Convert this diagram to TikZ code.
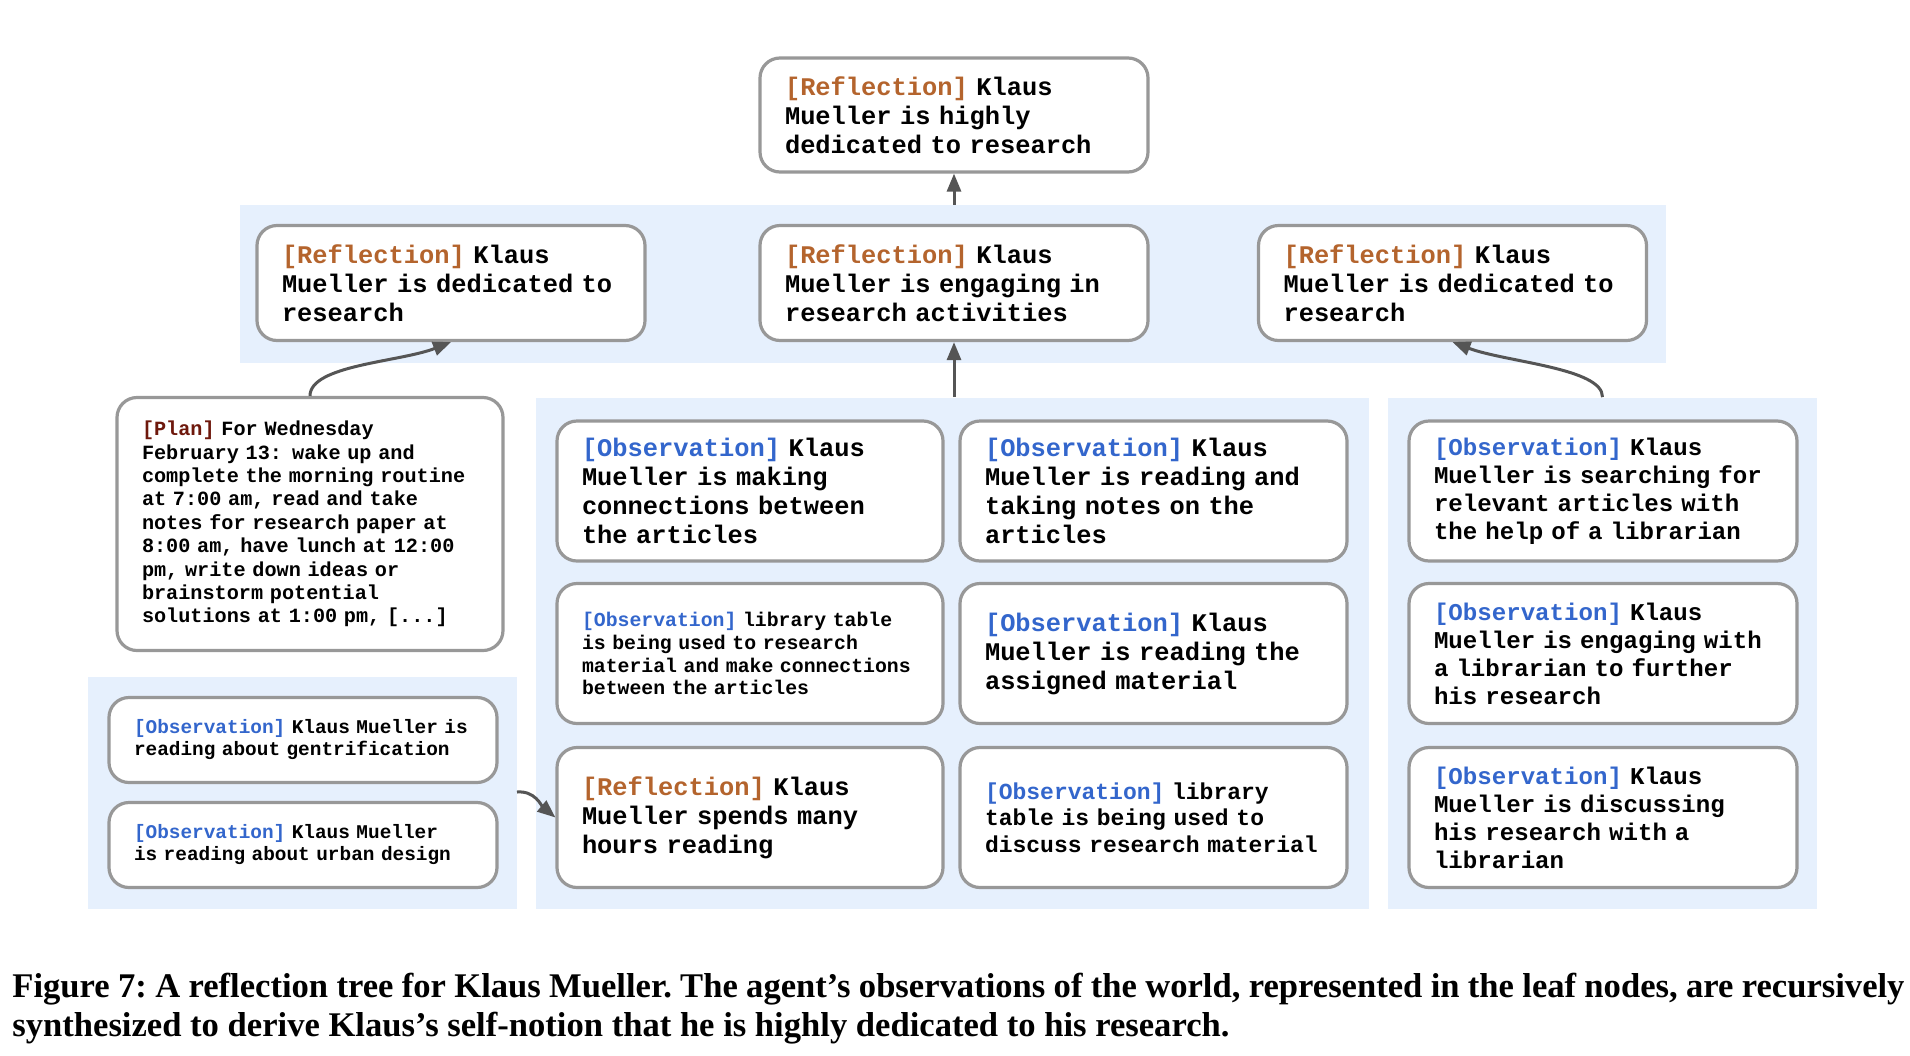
\documentclass[tikz,border=0pt]{standalone}
\usepackage{fontspec}
\setmonofont{Liberation Mono}
\newfontfamily\capfont{Liberation Serif}
\usetikzlibrary{arrows.meta}
\definecolor{refl}{RGB}{180,100,45}
\definecolor{obs}{RGB}{51,102,204}
\definecolor{plancol}{RGB}{110,24,12}
\definecolor{boxgray}{RGB}{152,152,152}
\definecolor{bgblue}{RGB}{230,240,253}
\definecolor{arrcol}{RGB}{85,85,85}
\newcommand\ftA{\ttfamily\bfseries\fontsize{12.7pt}{14.5pt}\selectfont}
\newcommand\ftPlan{\ttfamily\bfseries\fontsize{10.1pt}{11.7pt}\selectfont}
\newcommand\ftBL{\ttfamily\bfseries\fontsize{9.7pt}{11pt}\selectfont}
\newcommand\ftCB{\ttfamily\bfseries\fontsize{9.9pt}{11.45pt}\selectfont}
\newcommand\ftCC{\ttfamily\bfseries\fontsize{11.5pt}{13.2pt}\selectfont}
\newcommand\ftR{\ttfamily\bfseries\fontsize{12.05pt}{14pt}\selectfont}
\newcommand\lblR{\textcolor{refl}{[Reflection]}}
\newcommand\lblO{\textcolor{obs}{[Observation]}}
\newcommand\lblP{\textcolor{plancol}{[Plan]}}
\newcommand\bxl[1]{\mbox{#1}}
\tikzset{
  box/.style={draw=boxgray, line width=1.6pt, rounded corners=10pt, fill=white,
    align=left, inner xsep=12.5pt, inner ysep=0pt},
  bgpanel/.style={fill=bgblue, draw=none, inner sep=0pt},
  conn/.style={draw=arrcol, line width=1.5pt, -{Triangle[length=9pt,width=7pt]}},
}
\begin{document}
\begin{tikzpicture}[x=0.5pt,y=-0.5pt]
\useasboundingbox (0,0) rectangle (1910,1055);
\fill[white] (0,0) rectangle (1910,1055);

% background panels
\node[bgpanel, minimum width=713pt, minimum height=79pt] (midbg) at (953,284) {};
\node[bgpanel, minimum width=416.5pt, minimum height=255.5pt] (ctrbg) at (952.5,653) {};
\node[bgpanel, minimum width=214.5pt, minimum height=255.5pt] (rbg) at (1602.5,653) {};
\node[bgpanel, minimum width=214.5pt, minimum height=116pt] (blbg) at (302.5,793) {};

% top
\node[box, text width=169pt, minimum height=57pt, font=\ftA] (top) at (954,115)
  {\bxl{\lblR{} Klaus}\\\bxl{Mueller is highly}\\\bxl{dedicated to research}};

% middle row
\node[box, text width=169pt, minimum height=57.5pt, font=\ftA] (ml) at (451,283)
  {\bxl{\lblR{} Klaus}\\\bxl{Mueller is dedicated to}\\\bxl{research}};
\node[box, text width=169pt, minimum height=57.5pt, font=\ftA] (mc) at (954,283)
  {\bxl{\lblR{} Klaus}\\\bxl{Mueller is engaging in}\\\bxl{research activities}};
\node[box, text width=169pt, minimum height=57.5pt, font=\ftA] (mr) at (1452.5,283)
  {\bxl{\lblR{} Klaus}\\\bxl{Mueller is dedicated to}\\\bxl{research}};

% plan
\node[box, text width=168pt, minimum height=126.5pt, font=\ftPlan] (plan) at (310,524)
  {\bxl{\lblP{} For Wednesday}\\\bxl{February 13: wake up and}\\\bxl{complete the morning routine}\\\bxl{at 7:00 am, read and take}\\\bxl{notes for research paper at}\\\bxl{8:00 am, have lunch at 12:00}\\\bxl{pm, write down ideas or}\\\bxl{brainstorm potential}\\\bxl{solutions at 1:00 pm, [...]}};

% bottom-left
\node[box, text width=169pt, minimum height=42.5pt, font=\ftBL] (bl1) at (303,740)
  {\bxl{\lblO{} Klaus Mueller is}\\\bxl{reading about gentrification}};
\node[box, text width=169pt, minimum height=42.5pt, font=\ftBL] (bl2) at (303,845)
  {\bxl{\lblO{} Klaus Mueller}\\\bxl{is reading about urban design}};

% center column 1
\node[box, text width=168pt, minimum height=70pt, font=\ftA] (c11) at (750,491)
  {\bxl{\lblO{} Klaus}\\\bxl{Mueller is making}\\\bxl{connections between}\\\bxl{the articles}};
\node[box, text width=168pt, minimum height=70pt, font=\ftCB] (c12) at (750,653.5)
  {\bxl{\lblO{} library table}\\\bxl{is being used to research}\\\bxl{material and make connections}\\\bxl{between the articles}};
\node[box, text width=168pt, minimum height=70pt, font=\ftA] (c13) at (750,817.5)
  {\bxl{\lblR{} Klaus}\\\bxl{Mueller spends many}\\\bxl{hours reading}};

% center column 2
\node[box, text width=168.5pt, minimum height=70pt, font=\ftA] (c21) at (1153.5,491)
  {\bxl{\lblO{} Klaus}\\\bxl{Mueller is reading and}\\\bxl{taking notes on the}\\\bxl{articles}};
\node[box, text width=168.5pt, minimum height=70pt, font=\ftA] (c22) at (1153.5,653.5)
  {\bxl{\lblO{} Klaus}\\\bxl{Mueller is reading the}\\\bxl{assigned material}};
\node[box, text width=168.5pt, minimum height=70pt, font=\ftCC] (c23) at (1153.5,817.5)
  {\bxl{\lblO{} library}\\\bxl{table is being used to}\\\bxl{discuss research material}};

% right column
\node[box, text width=169pt, minimum height=70pt, font=\ftR] (r1) at (1603,491)
  {\bxl{\lblO{} Klaus}\\\bxl{Mueller is searching for}\\\bxl{relevant articles with}\\\bxl{the help of a librarian}};
\node[box, text width=169pt, minimum height=70pt, font=\ftR] (r2) at (1603,653.5)
  {\bxl{\lblO{} Klaus}\\\bxl{Mueller is engaging with}\\\bxl{a librarian to further}\\\bxl{his research}};
\node[box, text width=169pt, minimum height=70pt, font=\ftR] (r3) at (1603,817.5)
  {\bxl{\lblO{} Klaus}\\\bxl{Mueller is discussing}\\\bxl{his research with a}\\\bxl{librarian}};

% connectors
\draw[conn] (top.south |- midbg.north) -- (top.south);
\draw[conn] (mc.south |- ctrbg.north) -- (mc.south);
\draw[conn] (plan.north) .. controls (310,365) and (400,362) .. (ml.south);
\draw[conn] (rbg.north) .. controls (1603,368) and (1505,362) .. (mr.south);
\coordinate (blout) at (517,792);
\draw[conn] (blout) to[out=5,in=140] (c13.west);

% caption
\node[anchor=base west, inner sep=0pt, align=left,
      font=\capfont\bfseries\fontsize{17.3pt}{19.5pt}\selectfont] (cap) at (12,1036)
  {\frenchspacing\makebox[946pt][s]{Figure 7: A reflection tree for Klaus Mueller. The agent’s observations of the world, represented in the leaf nodes, are recursively}\\
   \frenchspacing synthesized to derive Klaus’s self-notion that he is highly dedicated to his research.};
\end{tikzpicture}
\end{document}
